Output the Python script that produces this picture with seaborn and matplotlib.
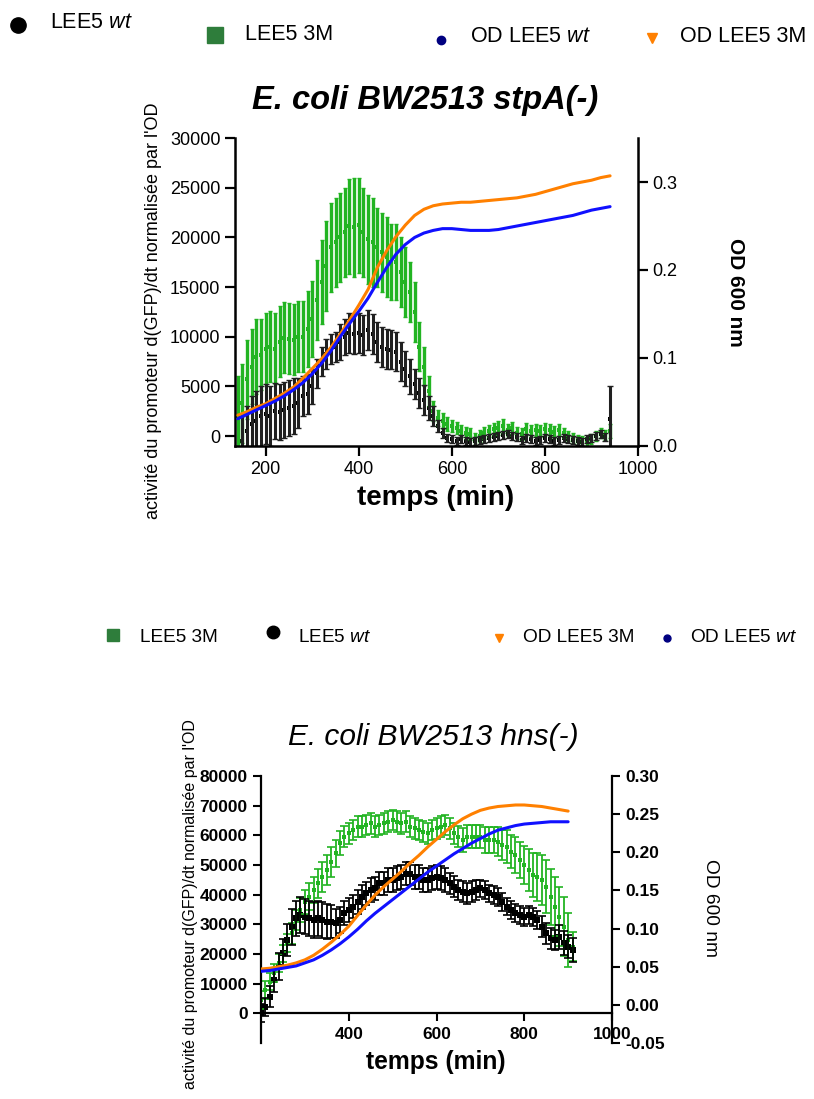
import numpy as np
import matplotlib
matplotlib.use("Agg")
import matplotlib.pyplot as plt
import seaborn as sns
import pandas as pd
from matplotlib.lines import Line2D

# style
sns.set_theme(style="ticks")
plt.rcParams['font.family'] = ['Liberation Sans', 'DejaVu Sans']
plt.rcParams['mathtext.fontset'] = 'custom'
plt.rcParams['mathtext.rm'] = 'Liberation Sans'
plt.rcParams['mathtext.it'] = 'Liberation Sans:italic'
plt.rcParams['mathtext.bf'] = 'Liberation Sans:bold'
for k in ["text.color", "axes.labelcolor", "xtick.color", "ytick.color", "axes.edgecolor"]:
    plt.rcParams[k] = "black"

GREEN = "#22b422"
ORANGE = "#ff8000"
BLUE = "#1010ff"

# ---------------- données : E. coli BW2513 stpA(-) ----------------
t_top = list(range(140, 950, 10))
lee5_3m_top = [2000, 3300, 5700, 7000, 8000, 8200, 8800, 9000, 8800, 9500,
               9900, 9800, 9700, 10000, 10000, 10800, 11800, 13700, 15500, 17100,
               19000, 19500, 20000, 20500, 21100, 21000, 21200, 20500, 19800, 19500,
               19000, 18500, 18000, 17500, 17500, 16500, 15500, 14500, 12500, 9000,
               7000, 4500, 2500, 1800, 1500, 1200, 1000, 800, 500, 300,
               200, -300, 0, 300, 500, 700, 800, 1000, 600, 800,
               300, 200, 700, 500, 600, 500, 700, 600, 400, 600,
               300, 0, -200, -400, -500, -600, -300, 0, 300, 100, 500]
lee5_3m_top_err = [4000, 4000, 4000, 3800, 3800, 3600, 3600, 3600, 3600, 3600,
                   3600, 3600, 3600, 3600, 3600, 3800, 3800, 4000, 4200, 4500,
                   4500, 4500, 4500, 4500, 4800, 5000, 4800, 4500, 4500, 4500,
                   4000, 4000, 4000, 3800, 3800, 3500, 3500, 3000, 3000, 2500,
                   2000, 1500, 1000, 800, 800, 700, 600, 600, 600, 600,
                   600, 600, 600, 600, 600, 600, 700, 700, 600, 600,
                   600, 600, 600, 600, 600, 600, 600, 600, 600, 600,
                   500, 500, 500, 500, 500, 500, 500, 500, 500, 500, 700]
lee5_wt_top = [np.nan, -500, 500, 1200, 1500, 2000, 2200, 2000, 2500, 2400,
               2600, 2800, 3000, 3300, 4000, 4200, 5000, 6300, 7500, 8300,
               8800, 9000, 9500, 10000, 10400, 10300, 10400, 10200, 10700, 10300,
               9500, 9000, 8800, 8700, 8500, 7500, 6800, 6000, 5200, 4300,
               3600, 2800, 2000, 1000, 300, -200, -300, -500, -300, -500,
               -600, -500, -400, -300, -200, -100, 0, 100, 200, 0,
               -100, -400, -200, -300, -500, -400, -200, -300, -500, -400,
               -200, -300, -400, -500, -600, -300, -200, 0, 200, -100, 1700]
lee5_wt_top_err = [0, 2500, 2500, 2800, 3000, 3000, 3000, 3000, 2800, 2800,
                   2800, 2800, 2800, 2500, 2000, 2000, 1800, 1500, 1500, 1500,
                   1500, 1500, 1800, 1800, 2000, 2000, 2000, 2000, 2000, 2000,
                   2000, 2000, 2000, 2000, 2000, 2000, 1800, 1800, 1500, 1500,
                   1500, 1200, 1000, 600, 500, 400, 400, 400, 400, 400,
                   400, 400, 400, 400, 400, 400, 400, 400, 400, 400,
                   400, 400, 400, 400, 400, 400, 400, 400, 400, 400,
                   400, 400, 400, 400, 400, 400, 400, 400, 400, 400, 3300]

t_od_top = list(range(140, 950, 20))
od_3m_top = [0.035, 0.039, 0.044, 0.048, 0.054, 0.060, 0.067, 0.077, 0.088, 0.099,
             0.112, 0.127, 0.143, 0.160, 0.178, 0.203, 0.222, 0.238, 0.251, 0.262,
             0.269, 0.273, 0.275, 0.276, 0.277, 0.277, 0.278, 0.279, 0.280, 0.281,
             0.282, 0.284, 0.286, 0.289, 0.292, 0.295, 0.298, 0.300, 0.302, 0.305, 0.307]
od_wt_top = [0.031, 0.036, 0.041, 0.046, 0.051, 0.057, 0.064, 0.072, 0.082, 0.094,
             0.108, 0.124, 0.139, 0.153, 0.168, 0.186, 0.203, 0.218, 0.229, 0.237,
             0.242, 0.245, 0.247, 0.247, 0.246, 0.245, 0.245, 0.245, 0.246, 0.248,
             0.250, 0.252, 0.254, 0.256, 0.258, 0.260, 0.262, 0.265, 0.268, 0.270, 0.272]

# ---------------- données : E. coli BW2513 hns(-) ----------------
t_bot = list(range(200, 920, 10))
lee5_3m_bot = [4500, 7900, 10700, 13500, 16900, 20200, 23600, 27000, 31500, 34800,
               37600, 39300, 41600, 43800, 46000, 48300, 51100, 53900, 57300, 59600,
               60700, 61800, 62900, 62900, 63500, 64000, 62900, 63500, 64000, 64600,
               65200, 64600, 64000, 64600, 62900, 62400, 61800, 61200, 60700, 61800,
               62400, 62900, 63500, 62400, 60700, 59600, 58400, 59600, 59600, 59600,
               59600, 58400, 58400, 58400, 57900, 56700, 56200, 54500, 53400, 51700,
               50000, 48300, 46600, 46000, 44900, 42700, 39300, 36000, 32600, 29200,
               24700, 22500]
lee5_3m_bot_err = [3000, 3000, 3000, 3000, 3000, 3000, 3000, 3500, 3500, 4000,
                   4000, 4500, 4500, 5000, 5000, 5000, 5000, 4500, 4000, 3500,
                   3500, 3500, 3500, 3500, 3500, 3500, 3500, 3500, 3500, 3500,
                   3500, 3500, 3500, 3500, 3500, 3500, 3500, 3500, 3500, 3500,
                   3500, 3500, 3500, 3500, 3500, 3500, 4000, 4000, 4000, 4000,
                   4000, 4500, 4500, 4500, 5000, 5000, 5500, 5500, 6000, 6000,
                   6500, 7000, 7500, 8000, 8500, 9000, 9500, 10000, 10000, 10000,
                   9000, 5000]
lee5_wt_bot = [0, 2200, 5600, 11200, 15700, 20200, 24700, 29200, 32000, 33100,
               32600, 32000, 31500, 32000, 31500, 30900, 30900, 30300, 31500, 33700,
               34800, 36000, 37600, 39300, 40400, 41600, 42100, 43800, 43800, 44900,
               44900, 45500, 46000, 47100, 47100, 46000, 46000, 44900, 44900, 45500,
               46000, 45500, 44900, 43800, 42700, 41600, 41000, 40400, 41000, 41600,
               42100, 41600, 40400, 39900, 39300, 37600, 36000, 34800, 33700, 33100,
               32600, 33100, 32600, 31500, 29200, 27000, 25300, 24700, 25800, 23600,
               22500, 21300]
lee5_wt_bot_err = [3000, 3000, 3500, 4000, 4500, 5000, 5500, 6000, 6000, 6000,
                   6000, 6000, 6000, 6000, 6000, 6000, 5500, 5000, 4500, 4000,
                   4000, 4000, 4000, 4000, 4000, 4000, 4000, 4000, 4000, 4000,
                   4000, 4000, 4000, 4000, 4000, 4000, 4000, 4000, 4000, 4000,
                   4000, 4000, 4000, 3500, 3500, 3500, 3500, 3500, 3500, 3500,
                   3000, 3000, 3000, 3000, 3000, 3000, 3000, 3000, 3000, 3000,
                   3000, 3000, 3000, 3000, 3500, 3500, 3500, 3500, 4000, 4000,
                   4000, 4000]

t_od_bot = list(range(200, 920, 20))
od_3m_bot = [0.047, 0.048, 0.050, 0.052, 0.055, 0.059, 0.065, 0.073, 0.082, 0.092,
             0.103, 0.117, 0.131, 0.144, 0.155, 0.165, 0.175, 0.186, 0.196, 0.207,
             0.217, 0.227, 0.236, 0.244, 0.250, 0.255, 0.258, 0.260, 0.261, 0.262,
             0.262, 0.261, 0.260, 0.258, 0.256, 0.254]
od_wt_bot = [0.044, 0.045, 0.047, 0.049, 0.051, 0.055, 0.059, 0.065, 0.072, 0.080,
             0.089, 0.099, 0.110, 0.120, 0.129, 0.138, 0.147, 0.156, 0.165, 0.174,
             0.182, 0.190, 0.198, 0.205, 0.212, 0.218, 0.224, 0.229, 0.232, 0.235,
             0.237, 0.238, 0.239, 0.240, 0.240, 0.240]

df_top = pd.DataFrame({"t": t_top, "m3": lee5_3m_top, "e3": lee5_3m_top_err,
                       "wt": lee5_wt_top, "ewt": lee5_wt_top_err})
df_od_top = pd.DataFrame({"t": t_od_top, "od3": od_3m_top, "odwt": od_wt_top})
df_bot = pd.DataFrame({"t": t_bot, "m3": lee5_3m_bot, "e3": lee5_3m_bot_err,
                       "wt": lee5_wt_bot, "ewt": lee5_wt_bot_err})
df_od_bot = pd.DataFrame({"t": t_od_bot, "od3": od_3m_bot, "odwt": od_wt_bot})

W, H = 814, 1099
fig = plt.figure(figsize=(W / 100, H / 100), dpi=100)


def fx(px):
    return px / W


def fy(py):
    return 1 - py / H


# ---------------- panneau du haut ----------------
ax1 = fig.add_axes([fx(235), fy(446), fx(403), 308 / H])
ax1.errorbar(df_top["t"], df_top["m3"], yerr=df_top["e3"], fmt="none",
             ecolor=GREEN, elinewidth=2.4, capsize=1.5, capthick=1)
sns.scatterplot(data=df_top, x="t", y="m3", ax=ax1, color=GREEN, marker="s",
                s=8, linewidth=0)
ax1.errorbar(df_top["t"], df_top["wt"], yerr=df_top["ewt"], fmt="none",
             ecolor="#202020", elinewidth=2.2, capsize=2, capthick=1)
sns.scatterplot(data=df_top, x="t", y="wt", ax=ax1, color="black", marker="s",
                s=8, linewidth=0)
ax1.set_xlim(134, 1000)
ax1.set_ylim(-1000, 30000)
ax1.set_xticks([200, 400, 600, 800, 1000])
ax1.set_yticks([0, 5000, 10000, 15000, 20000, 25000, 30000])
ax1.set_xlabel("")
ax1.set_ylabel("")
for s in ["top", "right"]:
    ax1.spines[s].set_visible(False)
for s in ["left", "bottom"]:
    ax1.spines[s].set_linewidth(1.8)
ax1.tick_params(labelsize=13, width=1.6, length=7, direction="out")

ax1r = ax1.twinx()
sns.lineplot(data=df_od_top, x="t", y="od3", ax=ax1r, color=ORANGE, lw=2.2)
sns.lineplot(data=df_od_top, x="t", y="odwt", ax=ax1r, color=BLUE, lw=2.2)
ax1r.set_ylim(0, 0.35)
ax1r.set_yticks([0.0, 0.1, 0.2, 0.3])
ax1r.set_yticklabels(["0.0", "0.1", "0.2", "0.3"])
ax1r.set_ylabel("")
for s in ["top", "left", "bottom"]:
    ax1r.spines[s].set_visible(False)
ax1r.spines["right"].set_linewidth(1.8)
ax1r.tick_params(labelsize=13, width=1.6, length=7, direction="out")

fig.text(fx(425), fy(100), "E. coli BW2513 stpA(-)", ha="center", va="center",
         fontsize=23.5, fontweight="bold", fontstyle="italic")
fig.text(fx(436), fy(498), "temps (min)", ha="center", va="center",
         fontsize=20, fontweight="bold")
fig.text(fx(153), fy(311), "activité du promoteur d(GFP)/dt normalisée par l'OD",
         ha="center", va="center", rotation=90, fontsize=13)
fig.text(fx(735), fy(292), "OD 600 nm", ha="center", va="center", rotation=270,
         fontsize=15, fontweight="bold")

# légende du haut
leg_top = [
    (18, 25, "o", 11, "black", "LEE5 $\\mathit{wt}$", 50, 22),
    (215, 35, "s", 11, "#2e7d3b", "LEE5 3M", 245, 35),
    (441, 40, "o", 6, "#000080", "OD LEE5 $\\mathit{wt}$", 470, 36),
    (652, 38, "v", 7, ORANGE, "OD LEE5 3M", 680, 36),
]
for mx, my, mk, ms, col, lab, tx, ty in leg_top:
    fig.add_artist(Line2D([fx(mx)], [fy(my)], transform=fig.transFigure,
                          marker=mk, markersize=ms, color=col, linestyle="none"))
    fig.text(fx(tx), fy(ty), lab, ha="left", va="center", fontsize=15.5)

# ---------------- panneau du bas ----------------
ax2 = fig.add_axes([fx(261), fy(1043), fx(351), 267 / H])
ax2.errorbar(df_bot["t"], df_bot["m3"], yerr=df_bot["e3"], fmt="none",
             ecolor=GREEN, elinewidth=1.3, capsize=3, capthick=1.2)
sns.scatterplot(data=df_bot, x="t", y="m3", ax=ax2, color=GREEN, marker="s",
                s=12, linewidth=0)
ax2.errorbar(df_bot["t"], df_bot["wt"], yerr=df_bot["ewt"], fmt="none",
             ecolor="black", elinewidth=1.3, capsize=3, capthick=1.2)
sns.scatterplot(data=df_bot, x="t", y="wt", ax=ax2, color="black", marker="s",
                s=14, linewidth=0)
ax2.set_xlim(200, 1000)
ax2.set_ylim(-10000, 80000)
ax2.set_xticks([400, 600, 800, 1000])
ax2.set_yticks(list(range(0, 80001, 10000)))
ax2.set_xlabel("")
ax2.set_ylabel("")
for s in ["top", "right"]:
    ax2.spines[s].set_visible(False)
ax2.spines["bottom"].set_position(("data", 0))
for s in ["left", "bottom"]:
    ax2.spines[s].set_linewidth(1.6)
ax2.tick_params(labelsize=12.5, width=1.5, length=6, direction="out")
for lbl in ax2.get_xticklabels() + ax2.get_yticklabels():
    lbl.set_fontweight("bold")

ax2r = ax2.twinx()
sns.lineplot(data=df_od_bot, x="t", y="od3", ax=ax2r, color=ORANGE, lw=2.2)
sns.lineplot(data=df_od_bot, x="t", y="odwt", ax=ax2r, color=BLUE, lw=2.2)
ax2r.set_ylim(-0.05, 0.30)
rt = [-0.05, 0.0, 0.05, 0.10, 0.15, 0.20, 0.25, 0.30]
ax2r.set_yticks(rt)
ax2r.set_yticklabels([f"{v:.2f}" for v in rt])
ax2r.set_ylabel("")
for s in ["top", "left", "bottom"]:
    ax2r.spines[s].set_visible(False)
ax2r.spines["right"].set_linewidth(1.6)
ax2r.tick_params(labelsize=12.5, width=1.5, length=6, direction="out")
for lbl in ax2r.get_yticklabels():
    lbl.set_fontweight("bold")

fig.text(fx(433), fy(737), "E. coli BW2513 hns(-)", ha="center", va="center",
         fontsize=21.5, fontstyle="italic")
fig.text(fx(436), fy(1062), "temps (min)", ha="center", va="center",
         fontsize=17.7, fontweight="bold")
fig.text(fx(190), fy(904), "activité du promoteur d(GFP)/dt normalisée par l'OD",
         ha="center", va="center", rotation=90, fontsize=11.5)
fig.text(fx(710), fy(908), "OD 600 nm", ha="center", va="center", rotation=270,
         fontsize=13.8)

# légende du bas
leg_bot = [
    (113, 635, "s", 9, "#2e7d3b", "LEE5 3M", 140, 637),
    (273, 632, "o", 9, "black", "LEE5 $\\mathit{wt}$", 298, 637),
    (499, 638, "v", 6, ORANGE, "OD LEE5 3M", 523, 637),
    (667, 638, "o", 5, "#000080", "OD LEE5 $\\mathit{wt}$", 690, 637),
]
for mx, my, mk, ms, col, lab, tx, ty in leg_bot:
    fig.add_artist(Line2D([fx(mx)], [fy(my)], transform=fig.transFigure,
                          marker=mk, markersize=ms, color=col, linestyle="none"))
    fig.text(fx(tx), fy(ty), lab, ha="left", va="center", fontsize=13.7)

fig.savefig("out.png", dpi=100)
